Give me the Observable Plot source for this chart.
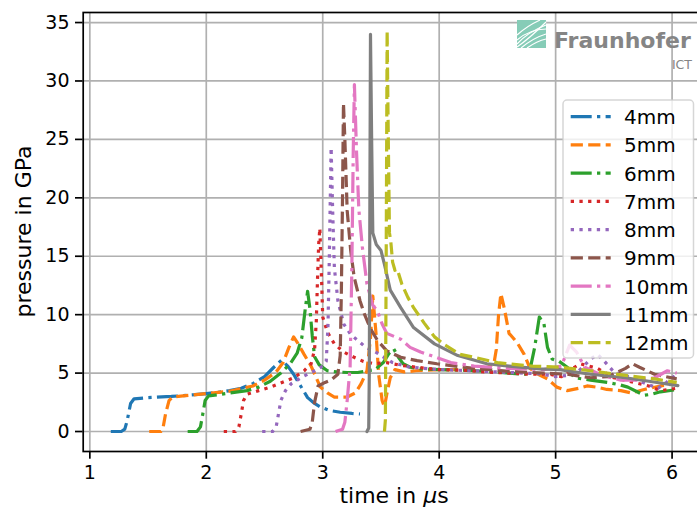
<!DOCTYPE html>
<html>
<head>
<meta charset="utf-8">
<script src="https://cdn.jsdelivr.net/npm/d3@7"></script>
<script src="https://cdn.jsdelivr.net/npm/@observablehq/plot@0.6"></script>
<style>
  html, body { margin: 0; padding: 0; background: white; overflow: hidden; }
  #wrap { position: relative; width: 697px; height: 515px; overflow: hidden; }
  #chart svg { display: block; }
  #overlay { position: absolute; left: 0; top: 0; pointer-events: none; }
  #chart g[aria-label^="x-axis"] line, #chart g[aria-label^="y-axis"] line,
  #chart g[aria-label^="x-axis"] path, #chart g[aria-label^="y-axis"] path { stroke-width: 1.7px; }
</style>
</head>
<body>
<div id="wrap"><div id="chart"></div><svg id="overlay" width="697" height="515"></svg></div>
<script>
// ---- data (time in µs, pressure in GPa) ----
const labels = ["4mm","5mm","6mm","7mm","8mm","9mm","10mm","11mm","12mm"];
const colors = ["#1f77b4","#ff7f0e","#2ca02c","#d62728","#9467bd","#8c564b","#e377c2","#7f7f7f","#bcbd22"];
const styles = ["dashdot","dashed","dashdot","dotted","dotted","dashed","dashdot","solid","dashed"];
const xTicks = [1,2,3,4,5,6];
const yTicks = [0,5,10,15,20,25,30,35];

const s4 = [[1.18,0],[1.27,0],[1.30,0.2],[1.32,0.9],[1.35,2.4],[1.38,2.8],[1.5,2.9],[1.7,3.0],[1.9,3.15],[2.0,3.25],[2.1,3.35],[2.2,3.5],[2.3,3.7],[2.4,4.1],[2.5,4.7],[2.58,5.5],[2.645,6.1],[2.7,5.6],[2.75,4.9],[2.81,3.9],[2.87,2.9],[2.93,2.4],[2.98,2.1],[3.06,1.8],[3.15,1.65],[3.25,1.55],[3.32,1.5]];
const s5 = [[1.51,0],[1.61,0],[1.63,0.4],[1.65,1.5],[1.68,2.65],[1.71,2.95],[1.8,3.05],[2.0,3.25],[2.2,3.45],[2.4,3.9],[2.5,4.4],[2.6,5.1],[2.66,5.9],[2.71,7.2],[2.75,8.1],[2.79,7.5],[2.84,6.6],[2.9,5.6],[2.98,3.8],[3.04,3.3],[3.1,2.95],[3.21,2.95],[3.28,3.3],[3.33,4.1],[3.38,5.2],[3.41,8.0],[3.43,11.6],[3.46,8.1],[3.48,4.9],[3.51,2.65],[3.53,2.1],[3.55,3.2],[3.58,4.6],[3.62,5.3],[3.7,5.1],[3.8,5.2],[4.0,5.3],[4.2,5.3],[4.4,5.4],[4.47,5.8],[4.49,7.0],[4.51,10],[4.53,11.8],[4.56,10.5],[4.6,8.4],[4.67,7.6],[4.73,6.6],[4.78,5.4],[4.85,4.9],[4.93,4.5],[5.01,3.8],[5.1,3.5],[5.2,3.7],[5.27,3.9],[5.35,3.8],[5.44,3.6],[5.56,3.5],[5.65,3.3],[5.76,3.6],[5.9,3.9],[6.03,4.1]];
const s6 = [[1.84,0],[1.92,0],[1.95,0.4],[1.97,1.5],[1.99,2.65],[2.02,3.05],[2.1,3.15],[2.2,3.3],[2.35,3.5],[2.45,3.8],[2.55,4.3],[2.64,5.0],[2.72,5.8],[2.78,6.7],[2.82,8.0],[2.85,10.5],[2.87,12.0],[2.89,10.5],[2.91,8.2],[2.93,6.4],[2.97,5.7],[3.04,5.2],[3.12,5.1],[3.21,5.05],[3.3,5.05],[3.38,5.2],[3.45,5.3],[3.52,5.9],[3.57,6.7],[3.61,7.07],[3.65,6.35],[3.69,5.8],[3.75,5.5],[3.85,5.35],[4.0,5.3],[4.2,5.25],[4.4,5.15],[4.6,5.0],[4.74,4.9],[4.78,5.3],[4.82,7.2],[4.86,9.8],[4.9,9.2],[4.93,7.2],[4.97,6.2],[5.03,6.0],[5.1,5.5],[5.16,4.6],[5.3,4.4],[5.45,4.2],[5.55,4.0],[5.62,3.8],[5.7,3.4],[5.76,3.1],[5.83,3.2],[5.9,3.4],[6.05,3.6]];
const s7 = [[2.15,0],[2.25,0],[2.28,0.4],[2.30,1.5],[2.32,2.65],[2.35,3.2],[2.45,3.5],[2.55,3.8],[2.65,4.2],[2.75,4.6],[2.84,5.2],[2.9,5.8],[2.93,7.0],[2.945,9.5],[2.955,13],[2.965,16],[2.975,17.4],[2.99,13],[3.0,9.8],[3.04,8.5],[3.1,7.5],[3.18,6.8],[3.27,6.35],[3.35,6.0],[3.44,5.8],[3.55,5.9],[3.65,5.7],[3.8,5.5],[4.0,5.3],[4.2,5.25],[4.4,5.1],[4.6,5.0],[4.8,4.9],[4.95,4.9],[5.05,4.7],[5.13,5.3],[5.21,5.8],[5.36,5.4],[5.5,4.6],[5.67,4.2],[5.8,3.9],[5.9,3.5],[6.04,3.7]];
const s8 = [[2.48,0],[2.57,0],[2.60,0.4],[2.62,1.5],[2.64,2.65],[2.68,3.5],[2.73,4.1],[2.83,4.7],[2.93,5.2],[3.0,5.6],[3.03,6.0],[3.045,9],[3.055,14],[3.065,20],[3.072,24.3],[3.085,19],[3.1,14],[3.13,11.2],[3.18,9.2],[3.24,8.3],[3.3,7.8],[3.37,7.2],[3.44,6.9],[3.5,6.5],[3.6,5.9],[3.75,5.5],[4.0,5.3],[4.3,5.2],[4.6,5.05],[4.85,4.95],[5.0,4.7],[5.1,4.8],[5.2,5.2],[5.3,6.2],[5.36,6.6],[5.42,6.0],[5.5,5.1],[5.65,4.6],[5.8,4.0],[5.88,3.7],[5.95,4.2],[6.04,4.9]];
const s9 = [[2.81,0],[2.89,0.2],[2.91,0.8],[2.93,2.5],[2.96,3.9],[3.02,4.2],[3.07,4.4],[3.13,4.9],[3.15,6.5],[3.16,12],[3.17,20],[3.178,28.1],[3.19,25],[3.21,18.9],[3.24,15.5],[3.27,13.2],[3.32,11.2],[3.36,10.0],[3.41,8.8],[3.47,7.8],[3.55,6.9],[3.67,6.35],[3.81,6.07],[3.98,5.8],[4.3,5.4],[4.6,5.15],[4.9,5.0],[5.1,4.9],[5.3,4.6],[5.45,4.7],[5.6,5.4],[5.66,5.8],[5.72,5.5],[5.85,4.9],[6.04,4.5]];
const s10 = [[3.11,0],[3.17,0.2],[3.19,0.8],[3.21,2.65],[3.235,5.5],[3.25,14],[3.262,24],[3.272,29.7],[3.29,24],[3.31,19],[3.34,15.8],[3.38,12.6],[3.43,10.8],[3.47,10.3],[3.51,9.2],[3.55,8.4],[3.67,7.9],[3.75,7.2],[3.84,6.8],[3.93,6.5],[4.1,5.9],[4.3,5.6],[4.6,5.4],[4.9,5.3],[5.05,5.6],[5.12,7.4],[5.18,6.8],[5.25,5.5],[5.4,4.8],[5.56,4.4],[5.7,4.4],[5.85,4.6],[5.96,5.2],[6.04,5.0]];
const s11 = [[3.38,0],[3.395,0.3],[3.40,5],[3.405,20],[3.41,34.0],[3.42,25],[3.43,17],[3.46,16],[3.5,15.5],[3.53,14.3],[3.58,12.1],[3.67,10.6],[3.78,8.9],[3.96,7.5],[4.16,6.5],[4.41,5.8],[4.6,5.6],[4.87,5.36],[5.04,5.3],[5.13,5.15],[5.3,4.9],[5.6,4.6],[5.8,4.3],[6.05,3.93]];
const s12 = [[3.53,0],[3.538,1],[3.545,15],[3.553,34.3],[3.563,25],[3.573,17],[3.585,16.2],[3.6,14.5],[3.62,13.8],[3.64,13.9],[3.68,12.6],[3.73,11.5],[3.78,10.6],[3.87,9.3],[3.96,8.1],[4.05,7.4],[4.18,6.6],[4.3,6.35],[4.5,5.9],[4.58,5.8],[4.8,5.6],[5.04,5.5],[5.3,5.2],[5.6,4.8],[5.85,4.5],[6.04,4.2]];
const series = [s4,s5,s6,s7,s8,s9,s10,s11,s12];

// ---- styling ----
const LW = 3.2;
const dashes = {solid: null, dashed: "12.2,5.3", dashdot: "21,5.3,3.3,5.3", dotted: "3.3,5.4"};
const xDomain = [0.943, 6.293];
const yDomain = [-1.71, 35.86];

const lineMarks = series.map((s, i) => Plot.line(s, {
  x: d => d[0], y: d => d[1],
  stroke: colors[i], strokeWidth: LW,
  strokeDasharray: dashes[styles[i]] || undefined,
  strokeLinecap: styles[i] === "solid" ? "round" : "butt",
  strokeLinejoin: "round"
}));

const chart = Plot.plot({
  width: 697, height: 515,
  marginLeft: 82.7, marginTop: 12, marginBottom: 64, marginRight: -8.7,
  x: {domain: xDomain, ticks: xTicks, tickSize: 7.7, tickPadding: 6, label: null, tickFormat: d => String(d)},
  y: {domain: yDomain, ticks: yTicks, tickSize: 7.7, tickPadding: 6, label: null, tickFormat: d => String(d)},
  style: {fontFamily: "'DejaVu Sans'", fontSize: "19px", color: "black", background: "white", overflow: "hidden"},
  marks: [
    Plot.ruleX(xTicks, {stroke: "#b0b0b0", strokeWidth: 1.7}),
    Plot.ruleY(yTicks, {stroke: "#b0b0b0", strokeWidth: 1.7}),
    ...lineMarks,
    Plot.frame({stroke: "black", strokeWidth: 1.7})
  ]
});
document.getElementById("chart").appendChild(chart);

// ---- overlay: axis labels, legend, logo ----
const ov = d3.select("#overlay");
const font = "'DejaVu Sans'";

const xl = ov.append("text").attr("x", 394).attr("y", 503).attr("text-anchor", "middle")
  .attr("font-family", font).attr("font-size", 22).attr("fill", "black");
xl.append("tspan").text("time in ");
xl.append("tspan").attr("font-style", "italic").text("μ");
xl.append("tspan").text("s");

ov.append("text").attr("transform", "translate(31,231.5) rotate(-90)").attr("text-anchor", "middle")
  .attr("font-family", font).attr("font-size", 22).attr("fill", "black").text("pressure in GPa");

// legend
const lg = ov.append("g");
lg.append("rect").attr("x", 563).attr("y", 100).attr("width", 130.5).attr("height", 258).attr("rx", 4)
  .attr("fill", "white").attr("fill-opacity", 0.8).attr("stroke", "#cccccc").attr("stroke-opacity", 0.8).attr("stroke-width", 1.5);
labels.forEach((lab, i) => {
  const y = 116.7 + 28.25 * i;
  lg.append("line").attr("x1", 570.7).attr("x2", 610.7).attr("y1", y).attr("y2", y)
    .attr("stroke", colors[i]).attr("stroke-width", LW)
    .attr("stroke-dasharray", dashes[styles[i]])
    .attr("stroke-linecap", "butt");
  lg.append("text").attr("x", 624).attr("y", y + 7.5).attr("font-family", font).attr("font-size", 20)
    .attr("fill", "black").text(lab);
});

// logo
const lo = ov.append("g");
lo.append("rect").attr("x", 517).attr("y", 20).attr("width", 29).attr("height", 28).attr("fill", "#86ccb7");
const stripes = [
  "M517,47 Q530,38 546,22",
  "M517,44 Q528,32 546,25",
  "M517,40 Q530,29 546,29",
  "M521,48 Q533,38 546,34",
  "M527,48 Q537,41 546,39",
  "M517,35 Q527,26 540,20"
];
stripes.forEach(p => lo.append("path").attr("d", p).attr("fill", "none").attr("stroke", "white").attr("stroke-width", 1.2));
lo.append("text").attr("x", 554).attr("y", 48.3).attr("font-family", font).attr("font-size", 22).attr("font-weight", "bold")
  .attr("fill", "#858585").text("Fraunhofer");
lo.append("text").attr("x", 692).attr("y", 69).attr("text-anchor", "end").attr("font-family", font).attr("font-size", 12.5)
  .attr("fill", "#858585").text("ICT");
</script>
</body>
</html>
